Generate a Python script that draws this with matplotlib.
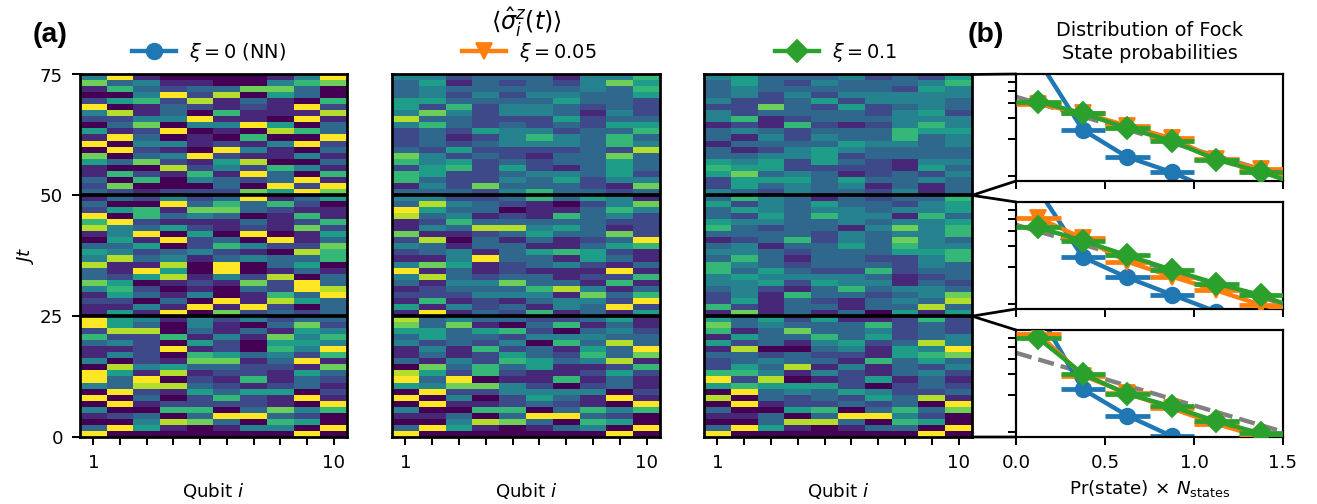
import numpy as np
import matplotlib
matplotlib.use("Agg")
import matplotlib.pyplot as plt
from matplotlib.patches import ConnectionPatch
from matplotlib.ticker import LogLocator, NullFormatter

# Heatmap levels (0-9 on viridis), rows listed from Jt=75 down to Jt=0
rows_nn = """4910000149 7341100467 1632337730 0049280530 2562813106
9013212192 4813061118 2244911091 0370449503 5129010863
1930106009 9044121492 0921094103 7034921141 5372158003
1008242641 1621619306 3060432391 2700030929 3212227597
1324239135 3009363620 2561773211 9063430161 6921113126
8435212172 1490509015 0519230913 3350264227 5423421086
4834134336 8118090350 3195090131 3258142803 7501217293
4620103298 1531401639 2203091853 1141919203 1519072323
9541424233 9530410372 2880313154 6226141746 3420520554
1129120649 1420653426 4021771391 0845332217 9518122153
9390216132 4388321231 0921535502 9030262191 0912222109
4006603746 1230399320 0048730650 3951014409 9000000090"""

rows_05 = """4423331446 3513232475 3433333436 3424244335 5533335332
5262443232 4742443142 8332225233 4632323255 2325442336
2312464363 2323444364 3252222328 7423213373 6452323353
2562521353 6522344352 6322435244 1427333217 3332463323
4422363541 3843210247 9533011364 8341216342 1263333322
1438845312 7112353372 2803131239 4313311356 2341356521
1149331531 4751234213 9131211191 4832331226 3144733161
1233368413 2224441736 1612134429 5142314392 1913261315
8343322351 7371036131 5535620342 3533244433 4232406383
1416231539 1312532637 3142653481 0736351126 8526211252
9390116131 5477420231 0922444402 9040253191 0911232109
4006603646 1130399320 0048730650 3951013409 9000000090"""

rows_10 = """4533342325 3532433346 3433333254 3424244444 4223524443
2273252343 4233332452 4612333444 1216212464 3432333655
3142433634 1333354434 3124543333 3344523333 5452532144
6552222153 5734312324 2555353343 2534341313 4324332413
3643132336 5243533245 3543443445 3253644163 5443343445
6323314746 3333243446 1236243743 3413353644 4432333556
3631332246 6432333243 6353226233 4544443123 4452544132
3421363443 2416332347 2513213438 6213313383 1713130515
5352511262 7343336232 6137334232 1533635234 5231452384
1800341549 3323221567 2343316353 2538141324 6641421342
9280125131 5655520232 0934354223 8032325381 0912232309
3005603637 1130399420 0038830650 3951013309 9000000090"""

qubit_ticks = np.arange(1, 11)
qubit_labels = ["1", "", "", "", "", "", "", "", "", "10"]
jt_ticks = [0, 25, 50, 75]

# Fock-state distribution panels (bin centres, half-width of a bin)
bin_x = [0.125, 0.375, 0.625, 0.875, 1.125, 1.375, 1.625]
bin_halfwidth = 0.125
blue_x = bin_x[:6]
top_blue = [0.914, 0.240, 0.143, 0.107, 0.074, 0.060]
top_orange = [0.391, 0.332, 0.259, 0.204, 0.138, 0.114, 0.082]
top_green = [0.411, 0.328, 0.248, 0.194, 0.136, 0.108, 0.081]
mid_blue = [0.878, 0.243, 0.165, 0.119, 0.086, 0.069]
mid_orange = [0.513, 0.348, 0.223, 0.168, 0.129, 0.098, 0.081]
mid_green = [0.428, 0.332, 0.251, 0.191, 0.147, 0.118, 0.086]
bot_blue = [0.975, 0.225, 0.136, 0.092, 0.058, 0.040]
bot_orange = [0.647, 0.292, 0.208, 0.156, 0.116, 0.091, 0.075]
bot_green = [0.595, 0.301, 0.205, 0.162, 0.122, 0.097, 0.082]
pt_x = [0.0, 1.5]
pt_y = [0.45, 0.10]
prob_ticks = [0, 0.5, 1.0, 1.5]
prob_labels = ["0.0", "0.5", "1.0", "1.5"]

series_labels = [r"$\xi=0$ (NN)", r"$\xi=0.05$", r"$\xi=0.1$"]
W, H = 1317, 504
plt.rcParams["mathtext.fontset"] = "dejavusans"
plt.rcParams["font.family"] = "DejaVu Sans"
fig = plt.figure(figsize=(W / 131.7, H / 131.7 + 1e-4), dpi=131.7)


def ax_px(x0, y0, x1, y1):
    return fig.add_axes([x0 / W, 1 - y1 / H, (x1 - x0) / W, (y1 - y0) / H])


def parse(block):
    return np.array([[int(c) for c in r] for r in block.split()]) / 9.0


heat_axes = []
for block, (x0, x1), show_y in zip(
    [rows_nn, rows_05, rows_10], [(80, 347), (392, 660), (704, 972)], [True, False, False]
):
    ax = ax_px(x0, 74.5, x1, 437)
    ax.imshow(parse(block), cmap="viridis", vmin=0, vmax=1, aspect="auto",
              extent=(0.5, 10.5, 0, 75), origin="upper", interpolation="nearest")
    ax.axhline(50, color="k", lw=2.0)
    ax.axhline(25, color="k", lw=2.0)
    ax.set_xticks(qubit_ticks)
    ax.set_xticklabels(qubit_labels)
    ax.set_xlabel(r"Qubit $i$", labelpad=5)
    if show_y:
        ax.set_yticks(jt_ticks)
        ax.set_ylabel(r"$Jt$", labelpad=2)
    else:
        ax.set_yticks([])
    for s in ax.spines.values():
        s.set_linewidth(1.5)
    ax.tick_params(width=1.1, length=4.5, pad=4.8)
    heat_axes.append(ax)

b_boxes = [(74, 181), (202, 309), (330, 437)]
b_data = [(top_blue, top_orange, top_green), (mid_blue, mid_orange, mid_green), (bot_blue, bot_orange, bot_green)]
t_ranges = [(50, 75), (25, 50), (0, 25)]
handles = None
for i, ((y0, y1), (bl, ora, gr), (t0, t1)) in enumerate(zip(b_boxes, b_data, t_ranges)):
    ax = ax_px(1016, y0, 1283, y1)
    ax.plot(pt_x, pt_y, color="gray", ls="--", lw=2.4, zorder=1)
    kw = dict(lw=2.4, elinewidth=2.6, ms=8.5)
    h0 = ax.errorbar(blue_x, bl, xerr=bin_halfwidth, fmt="-o", color="C0", zorder=2, **kw)
    h1 = ax.errorbar(bin_x, ora, xerr=bin_halfwidth, fmt="-v", color="C1", zorder=3, **kw)
    h2 = ax.errorbar(bin_x, gr, xerr=bin_halfwidth, fmt="-D", color="C2", zorder=4, **kw)
    handles = [h0[0], h1[0], h2[0]]
    ax.set_yscale("log")
    ax.set_xlim(0, 1.5)
    ax.set_ylim(0.0905, 0.695)
    ax.yaxis.set_major_locator(LogLocator(base=10, numticks=5))
    ax.yaxis.set_minor_locator(LogLocator(base=10, subs=range(2, 10), numticks=10))
    ax.yaxis.set_major_formatter(NullFormatter())
    ax.yaxis.set_minor_formatter(NullFormatter())
    ax.set_xticks(prob_ticks)
    ax.set_xticklabels(prob_labels if i == 2 else [])
    ax.tick_params(which="both", width=1.1, length=4.5, pad=4.8)
    if i == 2:
        ax.set_xlabel(r"Pr(state)$\,\times\,N_{\mathrm{states}}$", labelpad=3.5)
    for s in ax.spines.values():
        s.set_linewidth(1.2)
    for ta, ya in [(t1, 1), (t0, 0)]:
        con = ConnectionPatch(xyA=(10.5, ta), coordsA=heat_axes[2].transData,
                              xyB=(0, ya), coordsB=ax.transAxes, color="k", lw=1.5)
        fig.add_artist(con)

fig.text(526 / W, 1 - 22 / H, r"$\langle\hat{\sigma}^z_i(t)\rangle$", ha="center", va="center", fontsize=13)
fig.text(1150 / W, 1 - 42 / H, "Distribution of Fock\nState probabilities", ha="center", va="center",
         fontsize=10.5, linespacing=1.3)
fig.text(33 / W, 1 - 35 / H, "(a)", fontsize=15.5, fontweight="bold", family="Liberation Sans", va="center")
fig.text(968 / W, 1 - 35 / H, "(b)", fontsize=15.5, fontweight="bold", family="Liberation Sans", va="center")

for ax, h, lab, xpx in zip(heat_axes, handles, series_labels, [132, 462, 775]):
    fig.legend([h], [lab], loc="center left", bbox_to_anchor=(xpx / W, 1 - 52 / H),
               bbox_transform=fig.transFigure, frameon=False, borderpad=0, borderaxespad=0,
               fontsize=10.5, handlelength=2.3, handletextpad=0.65)

fig.savefig("out.png", dpi=131.7)
